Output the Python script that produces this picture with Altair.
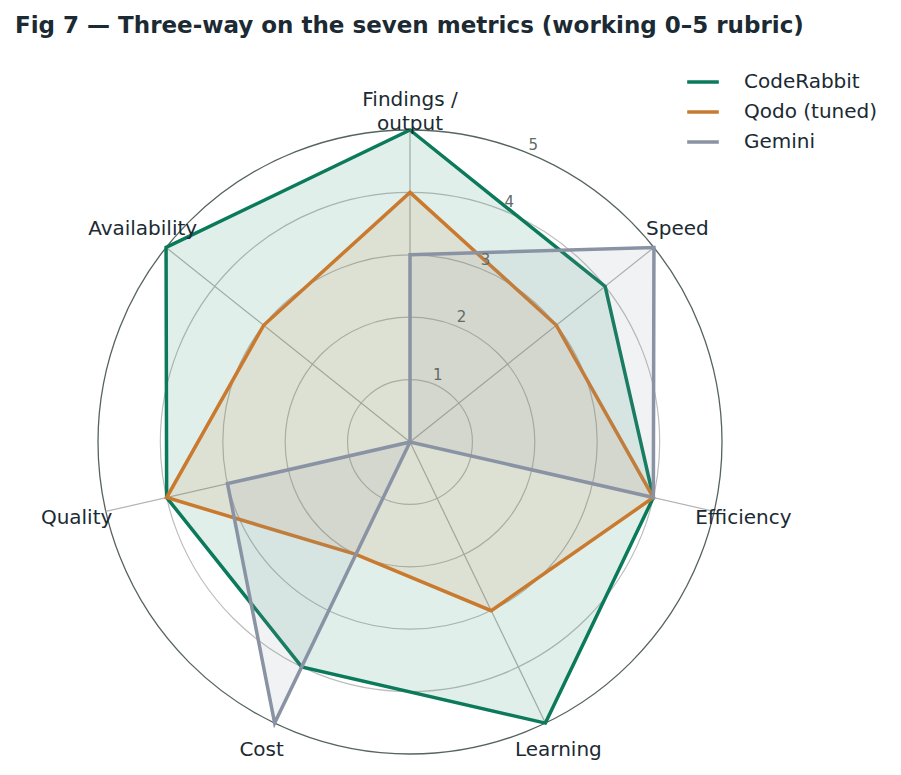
import math
import altair as alt
import pandas as pd

# ---- data ----
metrics = ["Findings /\noutput", "Speed", "Efficiency", "Learning", "Cost", "Quality", "Availability"]
tools = ["CodeRabbit", "Qodo (tuned)", "Gemini"]
coderabbit = [5, 4, 4, 5, 4, 4, 5]
qodo = [4, 3, 4, 3, 2, 4, 3]
gemini = [3, 5, 4, 0, 5, 3, 0]
grid_levels = [1, 2, 3, 4, 5]
tick_labels = ["1", "2", "3", "4", "5"]
colors = ["#0b7a5a", "#c97a2e", "#8a93a3"]

N = len(metrics)
RMAX = max(grid_levels)

rows = []
for tool, vals in zip(tools, [coderabbit, qodo, gemini]):
    for i, v in enumerate(vals):
        rows.append({"tool": tool, "idx": i, "value": v})
df = pd.DataFrame(rows)
axes_df = pd.DataFrame({"metric": metrics, "idx": list(range(N))})
grid_df = pd.DataFrame({"level": grid_levels, "label": tick_labels})

FONT = "DejaVu Sans"
TXT = "#1b2a33"

xs = alt.Scale(domain=[-RMAX, RMAX], nice=False, zero=False)
ys = alt.Scale(domain=[-RMAX, RMAX], nice=False, zero=False)
rs = alt.Scale(type="linear", domain=[0, RMAX], zero=True)
cscale = alt.Scale(domain=tools, range=colors)

ang = f"2*PI*datum.idx/{N}"

grid_inner = alt.Chart(grid_df).transform_filter(f"datum.level < {RMAX}").mark_arc(
    filled=False, theta=0, theta2=2 * math.pi, stroke="#bdbdbd", strokeWidth=1.2
).encode(radius=alt.Radius("level:Q", stack=False, scale=rs))

grid_outer = alt.Chart(grid_df).transform_filter(f"datum.level == {RMAX}").mark_arc(
    filled=False, theta=0, theta2=2 * math.pi, stroke="#56645f", strokeWidth=1.3
).encode(radius=alt.Radius("level:Q", stack=False, scale=rs))

spokes = alt.Chart(axes_df).transform_calculate(
    ang=ang,
    x0="0",
    y0="0",
    x1=f"{RMAX}*sin(datum.ang)",
    y1=f"{RMAX}*cos(datum.ang)",
).mark_rule(color="#b3b3b3", strokeWidth=1.2).encode(
    x=alt.X("x0:Q", scale=xs, axis=None),
    y=alt.Y("y0:Q", scale=ys, axis=None),
    x2="x1:Q",
    y2="y1:Q",
)

radar = alt.Chart(df).transform_calculate(
    ang=ang,
    px="datum.value*sin(datum.ang)",
    py="datum.value*cos(datum.ang)",
).mark_line(interpolate="linear-closed", strokeWidth=3.5, fillOpacity=0.12).encode(
    x=alt.X("px:Q", scale=xs, axis=None),
    y=alt.Y("py:Q", scale=ys, axis=None),
    order="idx:Q",
    fill=alt.Fill("tool:N", scale=cscale),
    color=alt.Color(
        "tool:N",
        scale=cscale,
        legend=alt.Legend(
            title="",
            orient="none",
            legendX=587,
            legendY=-66,
            symbolType="stroke",
            symbolSize=1000,
            symbolStrokeWidth=3.5,
            labelFontSize=20,
            labelFont=FONT,
            labelColor=TXT,
            labelOffset=23,
            rowPadding=2,
        ),
    ),
)

ticks = alt.Chart(grid_df).transform_calculate(
    tx="(datum.level+0.16)*sin(PI/8)",
    ty="(datum.level+0.16)*cos(PI/8)",
).mark_text(font=FONT, fontSize=15, color="#5f6b66", align="center", baseline="middle").encode(
    x=alt.X("tx:Q", scale=xs, axis=None),
    y=alt.Y("ty:Q", scale=ys, axis=None),
    text="label:N",
)

labels = alt.Chart(axes_df).transform_calculate(
    ang=ang,
    lx="5.48*sin(datum.ang)",
    ly="5.48*cos(datum.ang)",
).mark_text(font=FONT, fontSize=20, color=TXT, align="center", baseline="middle",
            lineBreak="\n", lineHeight=24).encode(
    x=alt.X("lx:Q", scale=xs, axis=None),
    y=alt.Y("ly:Q", scale=ys, axis=None),
    text="metric:N",
)

chart = alt.layer(grid_inner, grid_outer, spokes, radar, ticks, labels).properties(
    width=624,
    height=624,
    autosize=alt.AutoSizeParams(type="none"),
    padding={"left": 98, "top": 130, "right": 179, "bottom": 21},
    title=alt.TitleParams(
        "Fig 7 — Three-way on the seven metrics (working 0–5 rubric)",
        anchor="start",
        frame="group",
        dx=-83,
        offset=26,
        font=FONT,
        fontSize=23,
        fontWeight="bold",
        color=TXT,
    ),
).configure(background="white", view=alt.ViewConfig(stroke="transparent"))

chart.save("out.html", embed_options={"renderer": "svg", "actions": False})
